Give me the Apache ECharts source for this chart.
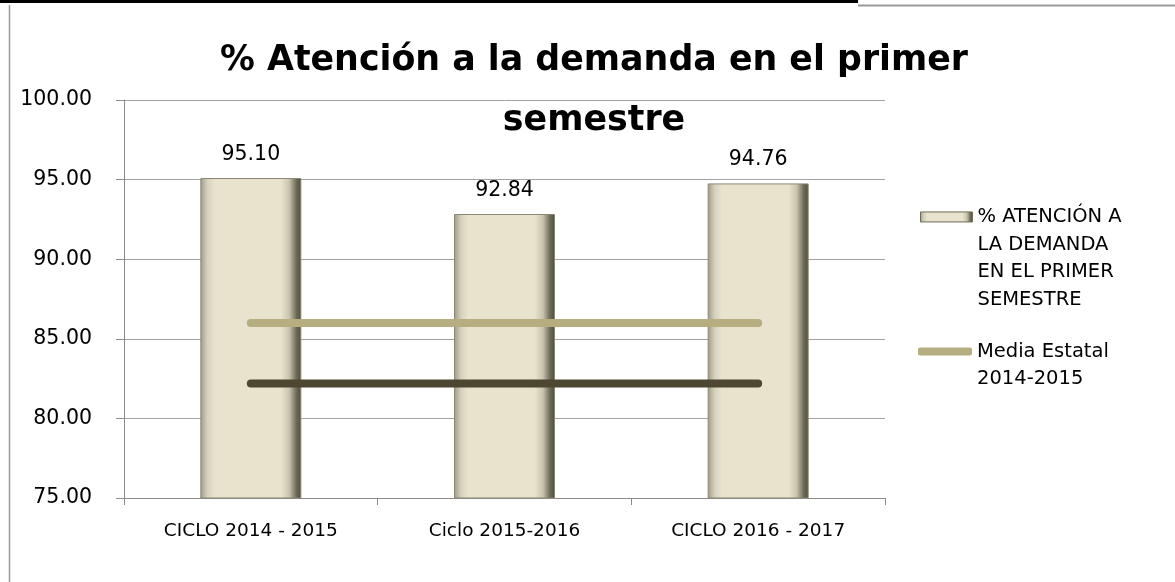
<!DOCTYPE html>
<html lang="es">
<head>
    <meta charset="UTF-8">
    <title>% Atención a la demanda en el primer semestre</title>
    <script type="text/javascript" src="https://cdn.jsdelivr.net/npm/echarts@6/dist/echarts.min.js"></script>
</head>
<style>
    html, body {
        margin: 0;
        padding: 0;
        background: #fff;
    }
    #container {
        width: 1175px;
        height: 582px;
    }
</style>
<body>
<div id="container"></div>
<script>
    // datos
    var ciclos = ['CICLO 2014 - 2015', 'Ciclo 2015-2016', 'CICLO 2016 - 2017'];
    var atencion = [95.10, 92.84, 94.76];
    var mediaEstatal = [86.0, 86.0, 86.0];
    var mediaOscura = [82.2, 82.2, 82.2];
    var ejeY = [75, 100, 5];

    var nombreBarra = '% ATENCIÓN A LA DEMANDA EN EL PRIMER SEMESTRE';
    var nombreMedia = 'Media Estatal 2014-2015';
    var nombreMedia2 = 'Media Estatal';

    var fuente = '"DejaVu Sans", sans-serif';

    var chart = echarts.init(document.getElementById('container'));

    var relleno = new echarts.graphic.LinearGradient(0, 0, 1, 0, [
        {offset: 0, color: '#9d9a86'},
        {offset: 0.07, color: '#d6d1bc'},
        {offset: 0.14, color: '#e8e3cd'},
        {offset: 0.8, color: '#e8e3cd'},
        {offset: 0.88, color: '#c9c4ae'},
        {offset: 0.95, color: '#6f6b58'},
        {offset: 1, color: '#4f4c3e'}
    ]);

    // el icono de la leyenda va con la primera linea: se rellenan lineas vacias arriba
    var textoLeyenda = {
        fontFamily: fuente,
        fontSize: 19.5,
        lineHeight: 27.7,
        color: '#000'
    };

    var option = {
        backgroundColor: '#fff',
        animation: false,
        title: {
            text: '% Atención a la demanda en el primer\nsemestre',
            left: 589,
            top: 26,
            textAlign: 'center',
            textStyle: {
                fontFamily: fuente,
                fontWeight: 'bold',
                fontSize: 34.8,
                lineHeight: 60,
                color: '#000'
            }
        },
        legend: [
            {
                orient: 'vertical',
                left: 920,
                top: 120,
                padding: 0,
                itemWidth: 52,
                itemHeight: 10,
                data: [{name: nombreBarra, icon: 'rect'}],
                formatter: function () {
                    return ' \n \n \n% ATENCIÓN A\nLA DEMANDA\nEN EL PRIMER\nSEMESTRE';
                },
                textStyle: textoLeyenda,
                itemStyle: {
                    borderColor: '#6f6b58',
                    borderWidth: 1
                }
            },
            {
                orient: 'vertical',
                left: 918,
                top: 310,
                padding: 0,
                itemWidth: 54,
                itemHeight: 8,
                data: [{name: nombreMedia, icon: 'roundRect'}],
                formatter: function () {
                    return ' \nMedia Estatal\n2014-2015';
                },
                textStyle: textoLeyenda
            }
        ],
        grid: {
            left: 124,
            right: 290,
            top: 100,
            bottom: 84
        },
        xAxis: {
            type: 'category',
            data: ciclos,
            axisLine: {lineStyle: {color: '#8c8c8c'}},
            axisTick: {show: true, length: 7, lineStyle: {color: '#8c8c8c'}},
            axisLabel: {
                margin: 24,
                fontFamily: fuente,
                fontSize: 18.5,
                color: '#000'
            }
        },
        yAxis: {
            type: 'value',
            min: ejeY[0],
            max: ejeY[1],
            interval: ejeY[2],
            axisLine: {show: true, lineStyle: {color: '#8c8c8c'}},
            axisTick: {show: true, length: 8, lineStyle: {color: '#8c8c8c'}},
            splitLine: {lineStyle: {color: '#a3a3a3', width: 1}},
            axisLabel: {
                margin: 32,
                fontFamily: fuente,
                fontSize: 20.5,
                color: '#000',
                formatter: function (v) {
                    return v.toFixed(2);
                }
            }
        },
        series: [
            {
                name: nombreBarra,
                type: 'bar',
                data: atencion,
                barWidth: 101,
                itemStyle: {
                    color: relleno,
                    borderColor: '#8a8775',
                    borderWidth: 1
                },
                label: {
                    show: true,
                    position: 'top',
                    distance: 13,
                    fontFamily: fuente,
                    fontSize: 20.5,
                    color: '#000',
                    formatter: function (p) {
                        return p.value.toFixed(2);
                    }
                },
                z: 2
            },
            {
                name: nombreMedia,
                type: 'line',
                data: mediaEstatal,
                symbol: 'none',
                color: '#b6ae80',
                lineStyle: {width: 8, color: '#b6ae80', cap: 'round'},
                z: 3
            },
            {
                name: nombreMedia2,
                type: 'line',
                data: mediaOscura,
                symbol: 'none',
                color: '#4d4630',
                lineStyle: {width: 8, color: '#4d4630', cap: 'round'},
                z: 3
            }
        ],
        graphic: [
            {
                type: 'rect',
                shape: {x: 0, y: 0, width: 858, height: 3},
                style: {fill: '#000'},
                silent: true
            },
            {
                type: 'line',
                shape: {x1: 858, y1: 5.5, x2: 1175, y2: 5.5},
                style: {stroke: '#999', lineWidth: 2},
                silent: true
            },
            {
                type: 'line',
                shape: {x1: 9.5, y1: 5, x2: 9.5, y2: 582},
                style: {stroke: '#999', lineWidth: 1.5},
                silent: true
            }
        ]
    };

    chart.setOption(option);
</script>
</body>
</html>
